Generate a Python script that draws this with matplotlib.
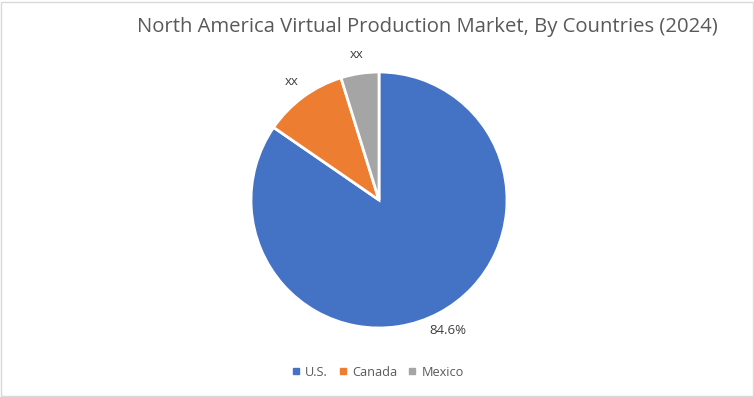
import matplotlib
matplotlib.use("Agg")
import matplotlib.pyplot as plt
from matplotlib.patches import Rectangle
from matplotlib.lines import Line2D

countries = ["U.S.", "Canada", "Mexico"]
shares = [84.6, 10.6, 4.8]
labels = ["84.6%", "xx", "xx"]
colors = ["#4472C4", "#ED7D31", "#A5A5A5"]

plt.rcParams['font.family'] = ['Open Sans', 'DejaVu Sans']

W, H = 754, 397
fig = plt.figure(figsize=(W/100.0, H/100.0), dpi=100)

# pie axes: centre (379, 200) px, radius 128 px
r = 128
ax = fig.add_axes([(379-r)/W, (H-200-r)/H, 2*r/W, 2*r/H])
wedges, texts = ax.pie(shares, labels=labels, colors=colors, startangle=90,
                       counterclock=False, labeldistance=1.15,
                       wedgeprops=dict(edgecolor='white', linewidth=2),
                       textprops=dict(color='#404040', fontsize=9.5))
for t in texts:
    t.set_ha('center')
    t.set_va('center')
ax.set_xlim(-1, 1)
ax.set_ylim(-1, 1)
ax.set_aspect('equal')
ax.axis('off')

fig.text(427/W, 1-27/H, "North America Virtual Production Market, By Countries (2024)",
         ha='center', va='center', fontsize=14.6, color='#595959')

handles = [Line2D([], [], marker='s', linestyle='none', markersize=5,
                  markerfacecolor=c, markeredgecolor=c) for c in colors]
fig.legend(handles, countries, loc='center', bbox_to_anchor=(378/W, 1-372/H),
           ncol=3, frameon=False, fontsize=9.2, handlelength=0.6, handletextpad=0.4,
           columnspacing=0.9, labelcolor='#595959')

fig.patches.append(Rectangle((1.0/W, 1.0/H), 1-2.5/W, 1-2.5/H, transform=fig.transFigure,
                             fill=False, edgecolor='#D9D9D9', linewidth=1))

fig.savefig("out.png", dpi=100)
